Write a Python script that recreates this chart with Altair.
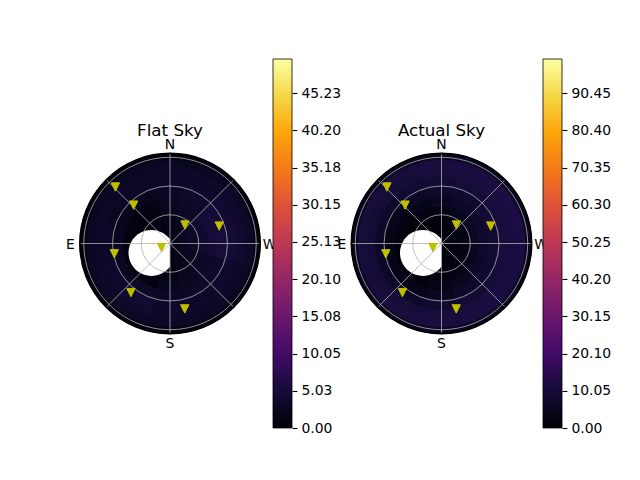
import math
import altair as alt
import pandas as pd

# ---------------- data ----------------
ring_edges = [0, 10, 20, 30, 40, 50, 60, 70, 80, 88, 94]
sector_az = [0, 30, 60, 90, 120, 150, 180, 210, 240, 270, 300, 330]
sector_half = 15

flat_sky = [
    [1.5, 1.2, 0.8, 0.5, 0.4, 0.6, 1.0, 1.5, 2.0, 2.2, 2.2, 2.0],
    [2.0, 1.3, 0.7, 0.4, 0.3, 0.5, 1.2, 2.0, 2.6, 2.9, 2.9, 2.5],
    [2.3, 1.3, 0.6, 0.4, 0.3, 0.5, 1.3, 2.3, 3.0, 3.4, 3.5, 2.9],
    [2.6, 1.4, 0.8, 0.6, 0.5, 0.8, 1.8, 2.7, 3.3, 4.0, 4.1, 3.3],
    [2.9, 1.8, 1.4, 1.2, 1.2, 1.6, 2.5, 3.1, 3.6, 4.6, 4.6, 3.6],
    [3.2, 2.7, 2.5, 2.8, 2.9, 3.3, 3.2, 3.4, 3.8, 5.0, 4.7, 3.8],
    [3.4, 3.2, 3.1, 3.5, 3.9, 4.4, 3.7, 3.6, 3.8, 4.6, 4.3, 3.7],
    [3.4, 3.4, 3.3, 3.4, 3.7, 4.0, 3.6, 3.6, 3.6, 4.0, 3.9, 3.6],
    [3.0, 3.0, 3.0, 3.0, 3.2, 3.3, 3.2, 3.2, 3.2, 3.4, 3.4, 3.0],
    [1.4, 1.4, 1.4, 1.4, 1.4, 1.4, 1.4, 1.4, 1.4, 1.5, 1.5, 1.4],
]

actual_sky = [
    [1.0, 0.8, 0.5, 0.4, 0.4, 0.5, 0.7, 1.0, 1.2, 1.4, 1.4, 1.2],
    [1.5, 1.0, 0.6, 0.4, 0.3, 0.5, 0.9, 1.5, 2.0, 2.4, 2.4, 2.0],
    [2.5, 1.6, 0.8, 0.4, 0.3, 0.6, 1.4, 2.4, 3.2, 3.8, 3.8, 3.2],
    [4.0, 2.8, 1.4, 0.8, 0.6, 1.0, 2.4, 3.8, 5.0, 5.8, 5.8, 5.0],
    [6.0, 4.6, 2.8, 1.8, 1.6, 2.2, 4.0, 5.6, 6.8, 7.6, 7.6, 6.8],
    [7.6, 6.6, 5.0, 4.0, 4.0, 4.6, 6.0, 7.4, 8.2, 9.0, 9.0, 8.2],
    [9.0, 8.4, 7.4, 7.0, 7.0, 7.4, 8.2, 9.0, 9.6, 10.0, 10.0, 9.6],
    [10.0, 9.8, 9.4, 9.4, 9.4, 9.6, 10.0, 10.4, 10.6, 10.8, 10.8, 10.6],
    [10.4, 10.2, 10.2, 10.2, 10.2, 10.4, 10.6, 10.8, 10.8, 11.0, 11.0, 10.8],
    [5.5, 5.5, 5.5, 5.5, 5.5, 5.5, 5.5, 5.5, 5.5, 5.5, 5.5, 5.5],
]

star_az = [44, 43.5, 321, 289.5, 115, 100.5, 141.5, 192.7]
star_zen = [82, 55.2, 24.8, 54.5, 9.8, 59.1, 65.5, 70]

moon_az = 117
moon_zen = 21.7
moon_radius = 24

grid_zen = [30, 60, 90]
spoke_az = [0, 45, 90, 135, 180, 225, 270, 315]
dir_names = ["N", "E", "S", "W"]
dir_az = [0, 90, 180, 270]
horizon = 94

flat_ticks = [0.00, 5.03, 10.05, 15.08, 20.10, 25.13, 30.15, 35.18, 40.20, 45.23]
actual_ticks = [0.00, 10.05, 20.10, 30.15, 40.20, 50.25, 60.30, 70.35, 80.40, 90.45]
flat_vmax = 49.85
actual_vmax = 99.7

inferno_stops = ["#000004", "#160b39", "#420a68", "#6a176e", "#932667", "#bc3754",
                 "#dd513a", "#f37819", "#fca50a", "#f6d746", "#fcffa4"]

# ---------------- layout ----------------
K = 0.958          # pixels per degree of zenith angle
H = 369            # view height
CY = 184.5         # centre of polar plot from view top
FONT = "DejaVu Sans"

XY = "datum.zen * cos(datum.az * PI / 180)"


def polar_panel(title, grid, width, cx, vmax):
    xs = alt.Scale(domain=[-cx / K, (width - cx) / K], nice=False, zero=False)
    ys = alt.Scale(domain=[-(H - CY) / K, CY / K], nice=False, zero=False)
    rs = alt.Scale(type="linear", domain=[0, horizon], range=[0, horizon * K], nice=False)
    ts = alt.Scale(domain=[0, 360], range=[2 * math.pi, 0], nice=False, zero=False)
    cs = alt.Scale(scheme="inferno", domain=[0, vmax], nice=False)
    x0 = alt.XDatum(0, scale=xs, axis=None)
    y0 = alt.YDatum(0, scale=ys, axis=None)

    rows = []
    for i in range(len(ring_edges) - 1):
        for j, az in enumerate(sector_az):
            rows.append({"r1": ring_edges[i], "r2": ring_edges[i + 1],
                         "t1": az - sector_half, "t2": az + sector_half,
                         "v": grid[i][j]})
    heat = alt.Chart(pd.DataFrame(rows)).mark_arc(strokeWidth=1.0).encode(
        x=x0, y=y0,
        theta=alt.Theta("t1:Q", scale=ts, stack=False),
        theta2="t2:Q",
        radius=alt.Radius("r2:Q", scale=rs, stack=False),
        radius2="r1:Q",
        fill=alt.Fill("v:Q", scale=cs, legend=None),
        stroke=alt.Stroke("v:Q", scale=cs, legend=None),
    )

    c = min(0.999, moon_zen * math.sin(math.radians(moon_az)) / moon_radius)
    s = math.sqrt(1 - c * c)
    moon_path = f"M{c:.3f},{-s:.3f}A1,1 0 1 0 {c:.3f},{s:.3f}Z"
    moon = alt.Chart(pd.DataFrame({"az": [moon_az], "zen": [moon_zen]})).transform_calculate(
        x="-datum.zen * sin(datum.az * PI / 180)", y=XY
    ).mark_point(shape=moon_path, size=(2 * moon_radius * K) ** 2, filled=True,
                 fill="white", fillOpacity=1, strokeWidth=0).encode(
        x=alt.X("x:Q", scale=xs, axis=None), y=alt.Y("y:Q", scale=ys, axis=None))

    rings = alt.Chart(pd.DataFrame({"r": grid_zen})).mark_arc(
        theta=0, theta2=2 * math.pi, fillOpacity=0, stroke="#b0b0b0", strokeWidth=0.8
    ).encode(x=x0, y=y0, radius=alt.Radius("r:Q", scale=rs, stack=False))

    spokes = alt.Chart(pd.DataFrame({"az": spoke_az})).transform_calculate(
        xa="0", ya="0",
        xb=f"-{horizon} * sin(datum.az * PI / 180)",
        yb=f"{horizon} * cos(datum.az * PI / 180)",
    ).mark_rule(color="#b0b0b0", strokeWidth=0.8).encode(
        x=alt.X("xa:Q", scale=xs, axis=None), y=alt.Y("ya:Q", scale=ys, axis=None),
        x2="xb:Q", y2="yb:Q")

    spine = alt.Chart(pd.DataFrame({"r": [horizon]})).mark_arc(
        theta=0, theta2=2 * math.pi, fillOpacity=0, stroke="black", strokeWidth=1.8
    ).encode(x=x0, y=y0, radius=alt.Radius("r:Q", scale=rs, stack=False))

    stars = alt.Chart(pd.DataFrame({"az": star_az, "zen": star_zen})).transform_calculate(
        x="-datum.zen * sin(datum.az * PI / 180)", y=XY
    ).mark_point(shape="M0,1L-1,-1L1,-1Z", size=70, filled=True, fill="#bfbf00",
                 fillOpacity=1, stroke="#bfbf00", strokeWidth=1, opacity=1).encode(
        x=alt.X("x:Q", scale=xs, axis=None), y=alt.Y("y:Q", scale=ys, axis=None))

    labels = alt.Chart(pd.DataFrame({"name": dir_names, "az": dir_az})).transform_calculate(
        x=f"-{99.5 / K} * sin(datum.az * PI / 180)",
        y=f"{99.5 / K} * cos(datum.az * PI / 180)",
    ).mark_text(font=FONT, fontSize=13.9, color="black", align="center",
                baseline="middle", dy=1).encode(
        x=alt.X("x:Q", scale=xs, axis=None), y=alt.Y("y:Q", scale=ys, axis=None),
        text="name:N")

    ttl = alt.Chart(pd.DataFrame({"t": [title]})).mark_text(
        font=FONT, fontSize=16.7, color="black", align="center", baseline="alphabetic"
    ).encode(x=x0, y=alt.YDatum(107.5 / K, scale=ys, axis=None), text="t:N")

    return alt.layer(heat, moon, rings, spokes, spine, stars, labels, ttl).properties(
        width=width, height=H)


def colorbar(vmax, ticks, width=19):
    grad = {
        "gradient": "linear", "x1": 0, "y1": 1, "x2": 0, "y2": 0,
        "stops": [{"offset": i / (len(inferno_stops) - 1), "color": col}
                  for i, col in enumerate(inferno_stops)],
    }
    return alt.Chart(pd.DataFrame({"lo": [0], "hi": [vmax]})).mark_rect(
        fill=grad, stroke="black", strokeWidth=0.8
    ).encode(
        x=alt.value(0), x2=alt.value(width),
        y=alt.Y("lo:Q", scale=alt.Scale(domain=[0, vmax], nice=False, zero=True),
                axis=alt.Axis(orient="right", values=ticks, format=".2f", title=None,
                              domain=False, grid=False, ticks=True, tickSize=4.9,
                              tickWidth=1.1, tickColor="black", labelColor="black",
                              labelFont=FONT, labelFontSize=13.9, labelPadding=4,
                              labelFlush=False, labelOverlap=False)),
        y2="hi:Q",
    ).properties(width=width, height=H)


chart = alt.hconcat(
    polar_panel("Flat Sky", flat_sky, 214.5, 112, flat_vmax),
    colorbar(flat_vmax, flat_ticks),
    polar_panel("Actual Sky", actual_sky, 251, 149.5, actual_vmax),
    colorbar(actual_vmax, actual_ticks),
    spacing=0, bounds="flush",
).resolve_scale(
    fill="independent", stroke="independent"
).properties(
    padding={"left": 50, "top": 50, "right": 5, "bottom": 5}
).configure(font=FONT).configure_view(stroke="transparent", strokeWidth=0)

chart.save("out.html", embed_options={"renderer": "svg", "actions": False})
